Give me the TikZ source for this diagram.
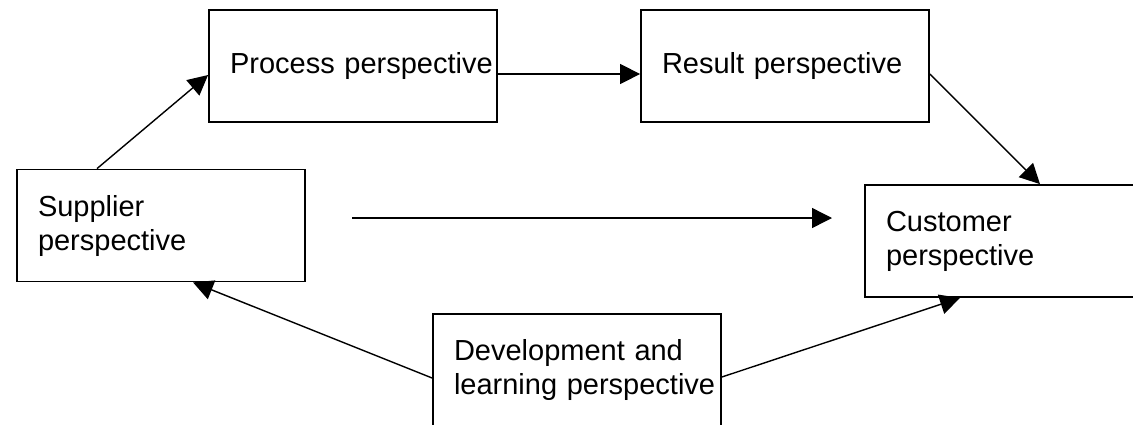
\documentclass[tikz,border=0pt]{standalone}
\usepackage{fontspec}
\setmainfont{Liberation Sans}
\usepackage{tikz}
\usetikzlibrary{positioning, arrows, arrows.meta}

\begin{document}
\begin{tikzpicture}[x=1pt, y=-1pt, every node/.style={font=\fontsize{29pt}{34pt}\selectfont},
  pbox/.style={draw, line width=1.8pt, align=left, text width=246pt, inner xsep=21pt, minimum height=112pt},
  link/.style={line width=1.4pt, -{Triangle[length=20pt, width=20pt]}}]
\useasboundingbox (0,0) rectangle (1133,424);
% Define the nodes
\node[pbox] (process) at (353, 66) {\mbox{Process perspective}};
\node[pbox] (result) at (785, 66) {\mbox{Result perspective}};
\node[pbox] (supplier) at (161, 225.5) {Supplier\\perspective};
\node[pbox] (customer) at (1009, 241) {Customer\\perspective};
\node[pbox] (dev) at (577, 370) {Development and\\\mbox{learning perspective}};
\coordinate (midstart) at (352, 218);
\coordinate (midend) at (832, 218);

% Draw the maps
\draw[link] ([xshift=-64pt]supplier.north) -- ([yshift=-9pt]process.west);
\draw[link] ([yshift=-8pt]process.east) -- ([yshift=-8pt]result.west);
\draw[link] ([yshift=-8pt]result.east) -- ([xshift=31pt]customer.north);
\draw[link] (midstart) -- (midend);
\draw[link] ([yshift=-8pt]dev.west) -- ([xshift=32pt]supplier.south);
\draw[link] ([yshift=-7pt]dev.east) -- ([xshift=-49pt]customer.south);
\end{tikzpicture}
\end{document}
